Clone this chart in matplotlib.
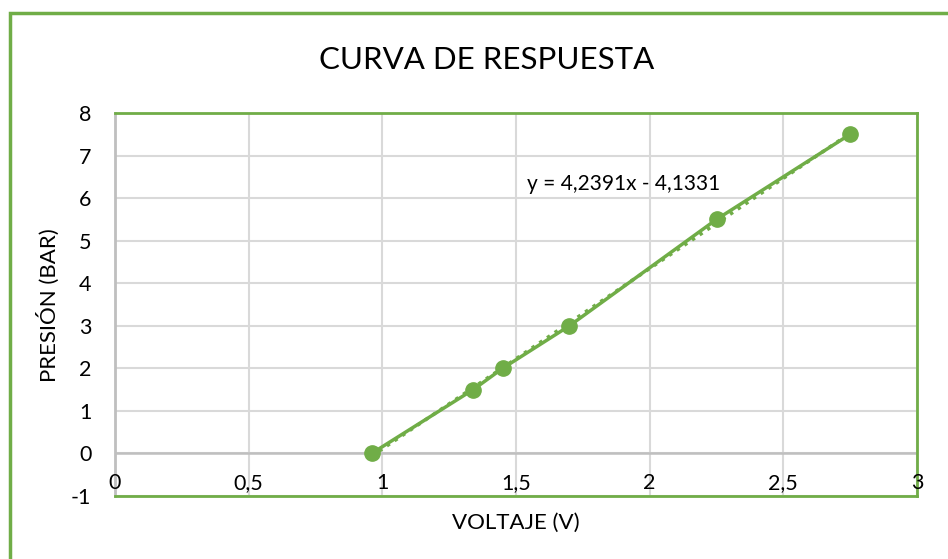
import matplotlib.pyplot as plt
from matplotlib.patches import Rectangle

voltaje = [0.96, 1.34, 1.45, 1.70, 2.25, 2.75]
presion = [0.0, 1.5, 2.0, 3.0, 5.5, 7.5]
pendiente = 4.2391
intercepto = -4.1331
x_ticks = [0, 0.5, 1, 1.5, 2, 2.5, 3]
x_labels = ['0', '0,5', '1', '1,5', '2', '2,5', '3']
y_ticks = [-1, 0, 1, 2, 3, 4, 5, 6, 7, 8]

verde = '#70AD47'
plt.rcParams['font.family'] = ['Lato', 'DejaVu Sans']
plt.rcParams['axes.unicode_minus'] = False

fig = plt.figure(figsize=(9.48, 5.59), dpi=100)
ax = fig.add_axes([115/948, 1 - 496/559, (917-115)/948, (496-113)/559])

# marco verde del grafico
fig.patches.append(Rectangle((10/948, -0.1), 1.2, 1 - 13/559 + 0.1,
                             transform=fig.transFigure, fill=False,
                             edgecolor=verde, linewidth=2.5))

ax.set_xlim(0, 3)
ax.set_ylim(-1, 8)
ax.set_xticks(x_ticks)
ax.set_yticks(y_ticks)
ax.grid(True, color='#D9D9D9', linewidth=1.5)
ax.axhline(0, color='#BFBFBF', linewidth=1.8, zorder=1)
ax.set_axisbelow(True)
ax.tick_params(length=0, labelsize=15.5)
ax.tick_params(axis='y', pad=17)
ax.set_xticklabels([])
for xv, lab in zip(x_ticks, x_labels):
    ax.text(xv, -0.7, lab, ha='center', va='center', fontsize=15.5)

for s in ['top', 'right', 'bottom']:
    ax.spines[s].set_color(verde)
    ax.spines[s].set_linewidth(2)
ax.spines['left'].set_color('#BFBFBF')
ax.spines['left'].set_linewidth(2)

# datos y linea de tendencia
ax.plot(voltaje, presion, color=verde, linewidth=2.5, marker='o',
        markersize=11, zorder=3)
xt = [min(voltaje), max(voltaje)]
ax.plot(xt, [pendiente * v + intercepto for v in xt], color=verde,
        linewidth=2.5, linestyle=':', zorder=2)

ax.text(1.54, 6.34, 'y = 4,2391x - 4,1331', fontsize=15, va='center')

fig.text(487/948, 1 - 60/559, 'CURVA DE RESPUESTA', ha='center', va='center',
         fontsize=22.5)
fig.text(516/948, 1 - 523/559, 'VOLTAJE (V)', ha='center', va='center',
         fontsize=16)
fig.text(48/948, 1 - 305/559, 'PRESIÓN (BAR)', ha='center', va='center',
         rotation=90, fontsize=16)

fig.savefig('out.png', dpi=100)
